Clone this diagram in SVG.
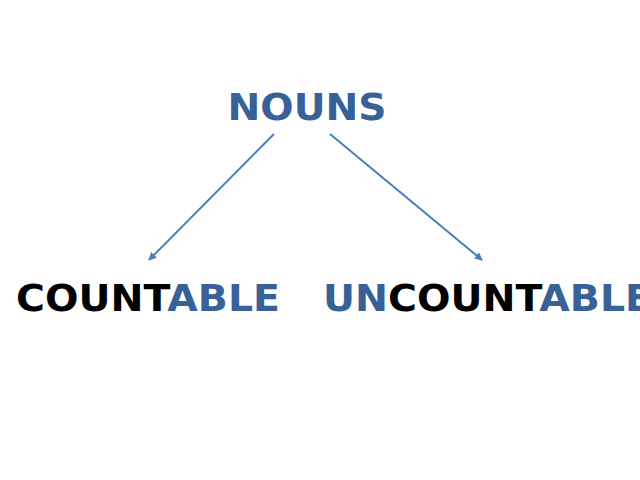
<svg xmlns="http://www.w3.org/2000/svg" width="640" height="480" viewBox="0 0 640 480">
<style>
.t{font-family:"DejaVu Sans",sans-serif;font-weight:bold;font-size:37px}
.b{fill:#376197}
.k{fill:#000}
.c{stroke:#4a7ebb;stroke-width:2;fill:none}
</style>
<defs>
<marker id="ah" viewBox="0 0 10 10" refX="9" refY="5" markerWidth="4" markerHeight="4" orient="auto" markerUnits="strokeWidth">
<path d="M0,0 L10,5 L0,10 Z" fill="#4a7ebb"/>
</marker>
</defs>
<rect width="640" height="480" fill="#fff"/>
<g id="connectors">
<line class="c" x1="274" y1="134" x2="149" y2="260" marker-end="url(#ah)"/>
<line class="c" x1="330" y1="134" x2="482" y2="260" marker-end="url(#ah)"/>
</g>
<g id="nouns"><text class="t b" x="227.5" y="120" textLength="159" lengthAdjust="spacingAndGlyphs">NOUNS</text></g>
<g id="countable"><text class="t" x="16" y="311" textLength="264" lengthAdjust="spacingAndGlyphs"><tspan class="k">COUNT</tspan><tspan class="b">ABLE</tspan></text></g>
<g id="uncountable"><text class="t" x="323" y="311" textLength="329" lengthAdjust="spacingAndGlyphs"><tspan class="b">UN</tspan><tspan class="k">COUNT</tspan><tspan class="b">ABLE</tspan></text></g>
</svg>
